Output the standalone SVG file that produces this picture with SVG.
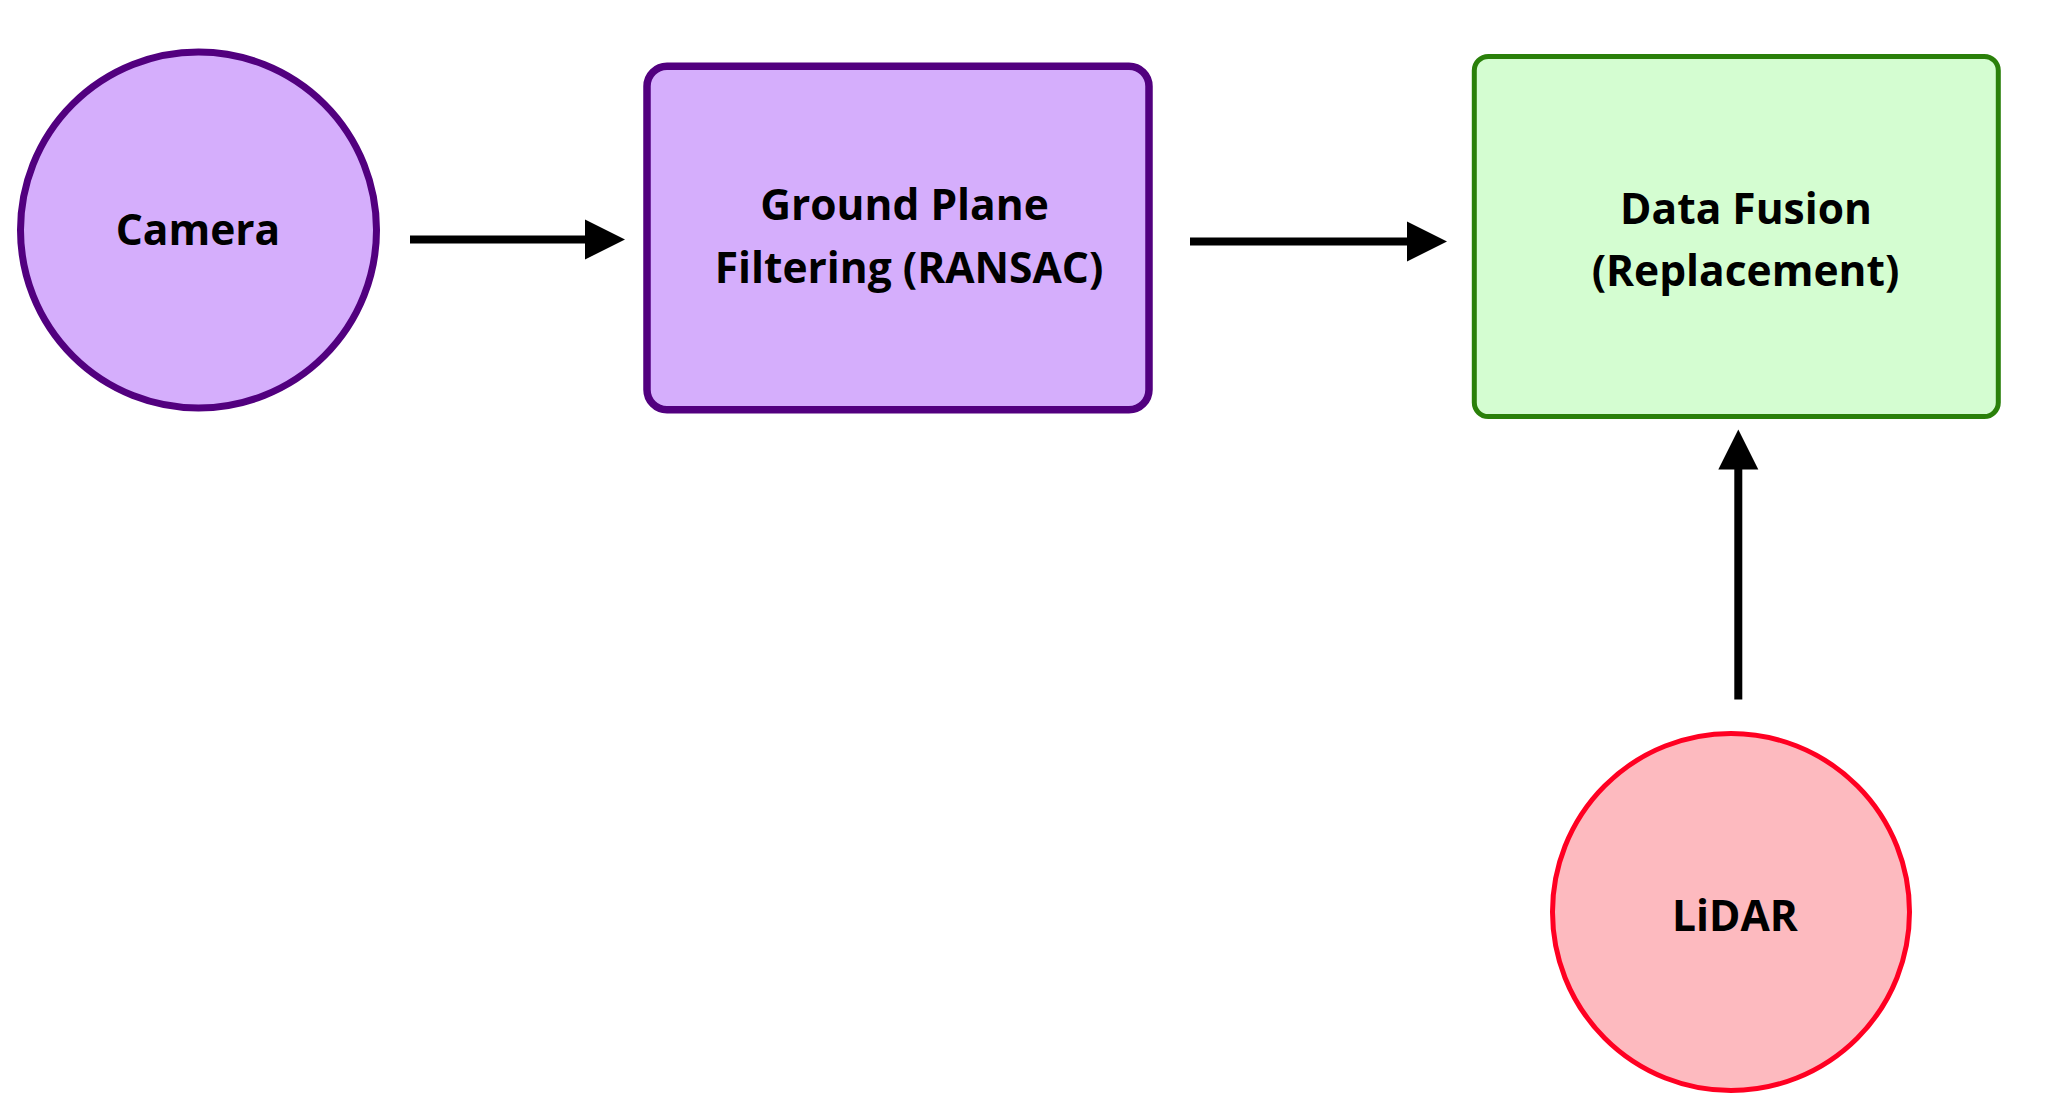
<svg xmlns="http://www.w3.org/2000/svg" width="2049" height="1095" viewBox="0 0 2049 1095">
<style>
.lbl{font-family:"Open Sans","Liberation Sans",sans-serif;font-weight:700;font-size:42.5px;fill:#000;text-anchor:middle}
.purple{fill:#D5AEFC;stroke:#52007F}
.green{fill:#D4FDD1;stroke:#2A800A;stroke-width:5}
.red{fill:#FDBABF;stroke:#FF0022;stroke-width:5}
.edge{stroke:#000;stroke-width:8;fill:none}
.head{fill:#000}
</style>
<rect width="2049" height="1095" fill="#fff"/>
<g id="connectors">
<line class="edge" x1="410" y1="239.5" x2="588" y2="239.5"/>
<polygon class="head" points="585,219.5 625,239.5 585,259.5"/>
<line class="edge" x1="1190" y1="241.5" x2="1410" y2="241.5"/>
<polygon class="head" points="1407,221.5 1447,241.5 1407,261.5"/>
<line class="edge" x1="1738.3" y1="699.5" x2="1738.3" y2="466"/>
<polygon class="head" points="1718.3,469.5 1738.3,429.5 1758.3,469.5"/>
</g>
<g id="camera">
<circle class="purple" cx="198.5" cy="230" r="178" stroke-width="7"/>
<text class="lbl" x="198" y="245">Camera</text>
</g>
<g id="ground-plane">
<rect class="purple" x="647" y="66.3" width="502" height="343.4" rx="20" stroke-width="7.5"/>
<text class="lbl" x="904.5" y="220">Ground Plane</text>
<text class="lbl" x="909" y="283">Filtering (RANSAC)</text>
</g>
<g id="data-fusion">
<rect class="green" x="1474.3" y="56.5" width="524" height="360" rx="14"/>
<text class="lbl" x="1746" y="224">Data Fusion</text>
<text class="lbl" x="1745.5" y="286">(Replacement)</text>
</g>
<g id="lidar">
<circle class="red" cx="1731" cy="912" r="178.5"/>
<text class="lbl" x="1735" y="931">LiDAR</text>
</g>
</svg>
